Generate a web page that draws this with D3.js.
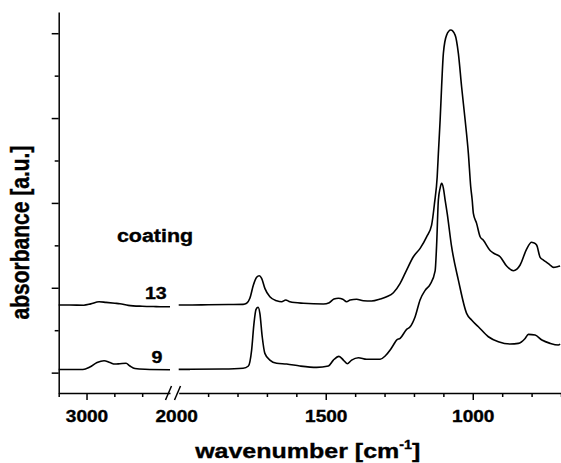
<!DOCTYPE html>
<html>
<head>
<meta charset="utf-8">
<script src="https://cdn.jsdelivr.net/npm/d3@7"></script>
<style>
  body { margin: 0; background: #fff; }
  svg { display: block; }
  text { font-family: "Liberation Sans", Arial, sans-serif; font-weight: bold; fill: #000; stroke: #000; stroke-width: 0.35px; }
</style>
</head>
<body>
<div id="chart"></div>
<script>
// coating 13, left part of the broken axis (3100-2700 cm-1)
const wn13Left = [3100, 3060, 3010, 2985, 2955, 2930, 2898, 2880, 2850, 2800, 2750, 2700];
const abs13Left = [0.797, 0.797, 0.795, 0.81, 0.835, 0.828, 0.818, 0.812, 0.793, 0.782, 0.778, 0.776];

// coating 9, left part
const wn9Left = [3100, 3013, 2988, 2962, 2937, 2916, 2898, 2880, 2858, 2844, 2826, 2790, 2700];
const abs9Left = [0.037, 0.037, 0.066, 0.119, 0.14, 0.119, 0.101, 0.105, 0.11, 0.078, 0.048, 0.039, 0.034];

// coating 13, right part (2000-700 cm-1)
const wn13Right = [2000, 1962, 1900, 1830, 1781, 1769, 1758, 1746, 1735, 1726, 1718, 1707, 1690,
  1667, 1650, 1636, 1622, 1576, 1508, 1488, 1472, 1457, 1442, 1429, 1417, 1395, 1372, 1344, 1315,
  1293, 1270, 1247, 1225, 1202, 1179, 1157, 1140, 1130, 1121, 1117, 1111, 1106, 1100, 1089, 1075,
  1060, 1049, 1038, 1026, 1015, 1007, 1002, 998, 987, 975, 964, 941, 930, 907, 885, 862, 850, 839,
  817, 800, 794, 783, 771, 760, 749, 737, 726, 710, 703];
const abs13Right = [0.797, 0.797, 0.8, 0.803, 0.805, 0.817, 0.876, 1.032, 1.123, 1.142, 1.111, 0.993, 0.894,
  0.847, 0.835, 0.856, 0.835, 0.817, 0.808, 0.824, 0.867, 0.876, 0.864, 0.835, 0.856, 0.864, 0.847, 0.844, 0.867,
  0.894, 0.942, 1.052, 1.209, 1.366, 1.465, 1.601, 1.739, 2.0, 2.309, 2.584, 2.977, 3.369, 3.763, 3.978, 4.037,
  3.978, 3.763, 3.369, 2.977, 2.584, 2.191, 2.034, 1.877, 1.759, 1.601, 1.56, 1.44, 1.41, 1.366, 1.256, 1.201, 1.22, 1.268,
  1.455, 1.536, 1.531, 1.504, 1.359, 1.327, 1.3, 1.268, 1.241, 1.25, 1.256];

// coating 9, right part
const wn9Right = [2000, 1962, 1850, 1781, 1763, 1752, 1744, 1737, 1730, 1724, 1716, 1707, 1690, 1667,
  1633, 1588, 1531, 1491, 1474, 1455, 1440, 1427, 1412, 1389, 1361, 1315, 1298, 1281, 1270, 1259,
  1247, 1225, 1213, 1196, 1179, 1162, 1145, 1128, 1123, 1117, 1111, 1106, 1100, 1094, 1087, 1072,
  1049, 1021, 1004, 981, 947, 913, 873, 845, 822, 811, 788, 765, 737, 709, 703];
const abs9Right = [0.039, 0.039, 0.042, 0.051, 0.078, 0.266, 0.581, 0.746, 0.77, 0.699, 0.423, 0.227, 0.148, 0.11,
  0.101, 0.078, 0.062, 0.078, 0.148, 0.192, 0.148, 0.105, 0.148, 0.176, 0.157, 0.157, 0.196, 0.266, 0.325, 0.384,
  0.404, 0.51, 0.54, 0.659, 0.86, 0.97, 1.04, 1.2, 1.5, 2.034, 2.175, 2.231, 2.175, 2.034, 1.877, 1.484,
  1.091, 0.699, 0.62, 0.541, 0.423, 0.364, 0.337, 0.345, 0.403, 0.451, 0.443, 0.384, 0.345, 0.325, 0.335];

// ticks
const yMajor = [0, 1, 2, 3, 4];
const yMinor = [0.5, 1.5, 2.5, 3.5];
const xLeftMajor = [3000];
const xLeftMinor = [3100, 2900, 2800];
const xRightMajor = [1500, 1000];
const xRightMinor = [1900, 1800, 1700, 1600, 1400, 1300, 1200, 1100, 900, 800, 700];
const breakLabel = 2000;

const seriesLabels = ['13', '9'];

const width = 561;
const height = 463;
const stretch = 1.19; // text in the original is wider than normal Arial

const svg = d3.select('#chart').append('svg')
  .attr('width', width)
  .attr('height', height);

const y = d3.scaleLinear().domain([-0.24, 4.25]).range([393, 12]);
const xLeft = d3.scaleLinear().domain([3100, 2700]).range([58.7, 170]);
const xRight = d3.scaleLinear().domain([2000, 700]).range([178.7, 561]);

const styleAxis = (g) => {
  g.selectAll('path, line').attr('stroke', '#000').attr('stroke-width', 1.5);
  g.selectAll('text')
    .attr('y', 28.7)
    .attr('dy', null)
    .style('font-size', '16px')
    .attr('transform', `scale(${stretch},1)`)
    .attr('font-family', null)
    .attr('fill', null);
};

/**
 * Axes
 */
const yAxis = svg.append('g').attr('transform', 'translate(58.7,0)');
yAxis.append('g')
  .call(d3.axisLeft(y).tickValues(yMajor).tickSize(7).tickSizeOuter(0).tickFormat(''))
  .call(styleAxis);
yAxis.append('g')
  .call(d3.axisLeft(y).tickValues(yMinor).tickSize(4).tickSizeOuter(0).tickFormat(''))
  .call(styleAxis)
  .select('.domain').remove();

const bottomLeft = svg.append('g').attr('transform', 'translate(0,393)');
bottomLeft.append('g')
  .call(d3.axisBottom(xLeft).tickValues(xLeftMajor).tickSize(7).tickSizeOuter(0).tickFormat(d3.format('d')))
  .call(styleAxis);
bottomLeft.append('g')
  .call(d3.axisBottom(xLeft).tickValues(xLeftMinor).tickSize(4).tickSizeOuter(0).tickFormat(''))
  .call(styleAxis)
  .select('.domain').remove();

const bottomRight = svg.append('g').attr('transform', 'translate(0,393)');
bottomRight.append('g')
  .call(d3.axisBottom(xRight).tickValues(xRightMajor).tickSize(7).tickSizeOuter(0).tickFormat(d3.format('d')))
  .call(styleAxis);
bottomRight.append('g')
  .call(d3.axisBottom(xRight).tickValues(xRightMinor).tickSize(4).tickSizeOuter(0).tickFormat(''))
  .call(styleAxis)
  .select('.domain').remove();

// label at the start of the right part, no tick under the break
bottomRight.append('text')
  .text(breakLabel)
  .attr('text-anchor', 'middle')
  .style('font-size', '16px')
  .attr('transform', `translate(${xRight(breakLabel) - 2},28.7) scale(${stretch},1)`);

// break marks
[168.5, 177.5].forEach((bx) => {
  svg.append('line')
    .attr('x1', bx - 3).attr('y1', 400)
    .attr('x2', bx + 3).attr('y2', 386)
    .attr('stroke', '#000')
    .attr('stroke-width', 1.5);
});

/**
 * Spectra
 */
const drawTrace = (wn, abs, x) => {
  const line = d3.line()
    .x((d) => x(d[0]))
    .y((d) => y(d[1]))
    .curve(d3.curveMonotoneX);
  svg.append('path')
    .datum(d3.zip(wn, abs))
    .attr('d', line)
    .attr('fill', 'none')
    .attr('stroke', '#000')
    .attr('stroke-width', 1.6)
    .attr('stroke-linejoin', 'round');
};

drawTrace(wn13Left, abs13Left, xLeft);
drawTrace(wn9Left, abs9Left, xLeft);
drawTrace(wn13Right, abs13Right, xRight);
drawTrace(wn9Right, abs9Right, xRight);

/**
 * Labels
 */
svg.append('text')
  .text('coating')
  .attr('text-anchor', 'middle')
  .style('font-size', '18px')
  .attr('transform', `translate(155,241.7) scale(${stretch},1)`);

svg.append('text')
  .text(seriesLabels[0])
  .attr('text-anchor', 'middle')
  .style('font-size', '16.5px')
  .attr('transform', `translate(155.8,299.3) scale(${stretch},1)`);

svg.append('text')
  .text(seriesLabels[1])
  .attr('text-anchor', 'middle')
  .style('font-size', '16.5px')
  .attr('transform', `translate(157,362.7) scale(${stretch},1)`);

// axis titles
svg.append('text')
  .text('absorbance [a.u.]')
  .attr('text-anchor', 'middle')
  .style('font-size', '21px')
  .attr('transform', `translate(29.3,232.5) scale(${stretch},1) rotate(-90)`);

const xTitle = svg.append('text')
  .attr('text-anchor', 'middle')
  .style('font-size', '21px')
  .attr('transform', `translate(307.7,458.3) scale(${stretch},1)`);
xTitle.append('tspan').text('wavenumber [cm');
xTitle.append('tspan').text('-1').attr('dy', -9).style('font-size', '12px');
xTitle.append('tspan').text(']').attr('dy', 9);
</script>
</body>
</html>
